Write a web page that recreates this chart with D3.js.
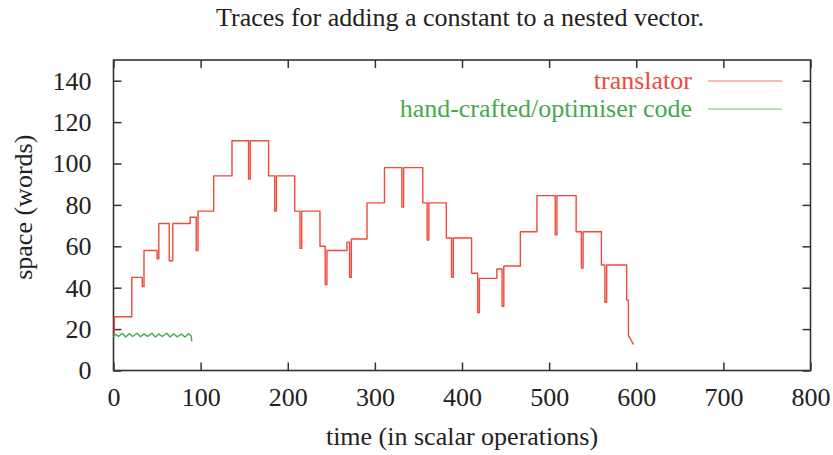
<!DOCTYPE html>
<html>
<head>
<meta charset="utf-8">
<script src="https://cdn.jsdelivr.net/npm/d3@7"></script>
<style>
  html, body { margin: 0; padding: 0; background: #fff; }
</style>
</head>
<body>
<svg id="chart" width="833" height="455"></svg>
<script>
// Translator trace: step breakpoints (time, space); space holds until the next time.
const translatorTime  = [0, 1, 21, 33, 35, 50, 52, 64, 68, 88, 95, 97, 115, 136, 155, 157, 178, 185, 187,
  208, 214, 216, 237, 243, 245, 268, 271, 273, 291, 311, 331, 333, 355, 360, 362,
  382, 388, 390, 411, 418, 420, 440, 446, 448, 467, 486, 507, 509, 531, 537, 539,
  560, 564, 566, 589, 591];
const translatorSpace = [18, 26, 45, 40.5, 58, 54, 71, 53, 71, 74, 58, 77, 94, 111, 92.5, 111, 94, 77, 94,
  77, 59, 77, 60, 41.5, 58, 62, 45, 63.5, 81, 98, 79, 98, 81, 63, 81,
  64, 45, 64, 47, 28, 44.5, 49, 31, 50.5, 67, 84.5, 65.5, 84.5, 67, 49.5, 67,
  51, 33, 51, 34, 17];
// Final release of space after the last step, drawn as a straight run.
const translatorEndTime  = [591, 597];
const translatorEndSpace = [17, 12.5];

// Hand-crafted / optimiser code trace.
const handTime  = [0, 2, 6, 10, 14, 18, 22, 27, 31, 35, 39, 44, 48, 52, 56, 61, 65, 69, 73, 78, 82, 86, 89, 90];
const handSpace = [16, 17.5, 16.5, 18, 16.2, 17.8, 16.4, 18, 16.3, 17.7, 16.5, 18, 16.2, 17.6, 16.4, 18, 16.2, 17.8, 16.3, 17.6, 16.2, 17.8, 16.8, 14];

const xTicks = [0, 100, 200, 300, 400, 500, 600, 700, 800];
const yTicks = [0, 20, 40, 60, 80, 100, 120, 140];

const seriesNames = ["translator", "hand-crafted/optimiser code"];
const seriesColors = ["#ef4a3c", "#45a94b"];

const serif = '"Liberation Serif", "Times New Roman", Tinos, serif';

const svg = d3.select("#chart");
const plotLeft = 113.5, plotRight = 810.5, plotTop = 60, plotBottom = 370.5;

const x = d3.scaleLinear().domain([0, 800]).range([plotLeft, plotRight]);
const y = d3.scaleLinear().domain([0, 150]).range([plotBottom, plotTop]);

const textColor = "#222";
const frameColor = "#333";
const tickLen = 8;

// Title and axis labels
svg.append("text")
  .attr("x", (plotLeft + plotRight) / 2 - 2).attr("y", 26)
  .attr("text-anchor", "middle").attr("font-size", 26).attr("fill", textColor)
  .style("font-family", serif)
  .text("Traces for adding a constant to a nested vector.");

svg.append("text")
  .attr("x", (plotLeft + plotRight) / 2).attr("y", 445)
  .attr("text-anchor", "middle").attr("font-size", 26).attr("fill", textColor)
  .style("font-family", serif)
  .text("time (in scalar operations)");

svg.append("text")
  .attr("transform", `translate(32,${(plotTop + plotBottom) / 2 - 8}) rotate(-90)`)
  .attr("text-anchor", "middle").attr("font-size", 26).attr("fill", textColor)
  .style("font-family", serif)
  .text("space (words)");

// Axes with inward ticks on all four sides (labels only bottom and left)
function styleAxis(g) {
  g.select(".domain").remove();
  g.selectAll(".tick line").attr("stroke", frameColor).attr("stroke-width", 1.5);
  g.selectAll(".tick text").attr("font-size", 26).attr("fill", textColor)
    .style("font-family", serif);
}

svg.append("g").attr("transform", `translate(0,${plotBottom})`)
  .call(d3.axisBottom(x).tickValues(xTicks).tickSizeInner(-tickLen).tickSizeOuter(0).tickPadding(17).tickFormat(d3.format("d")))
  .call(styleAxis);
svg.append("g").attr("transform", `translate(0,${plotTop})`)
  .call(d3.axisTop(x).tickValues(xTicks).tickSizeInner(-tickLen).tickSizeOuter(0).tickFormat(""))
  .call(styleAxis);
svg.append("g").attr("transform", `translate(${plotLeft},0)`)
  .call(d3.axisLeft(y).tickValues(yTicks).tickSizeInner(-tickLen).tickSizeOuter(0).tickPadding(22).tickFormat(d3.format("d")))
  .call(styleAxis);
svg.append("g").attr("transform", `translate(${plotRight},0)`)
  .call(d3.axisRight(y).tickValues(yTicks).tickSizeInner(-tickLen).tickSizeOuter(0).tickFormat(""))
  .call(styleAxis);

// Frame
svg.append("rect")
  .attr("x", plotLeft).attr("y", plotTop).attr("width", plotRight - plotLeft).attr("height", plotBottom - plotTop)
  .attr("fill", "none").attr("stroke", frameColor).attr("stroke-width", 1.6);

// Expand the step breakpoints into corner points
const translatorPts = [];
translatorTime.forEach((t, i) => {
  if (i > 0) translatorPts.push([t, translatorSpace[i - 1]]);
  translatorPts.push([t, translatorSpace[i]]);
});
translatorEndTime.forEach((t, i) => { if (i > 0) translatorPts.push([t, translatorEndSpace[i]]); });

const handPts = handTime.map((t, i) => [t, handSpace[i]]);

const line = d3.line().x(d => x(d[0])).y(d => y(d[1]));

svg.append("path").datum(handPts)
  .attr("d", line).attr("fill", "none")
  .attr("stroke", seriesColors[1]).attr("stroke-width", 1.4).attr("stroke-linejoin", "round");

svg.append("path").datum(translatorPts)
  .attr("d", line).attr("fill", "none")
  .attr("stroke", seriesColors[0]).attr("stroke-width", 1.4).attr("stroke-linejoin", "round");

// Legend
const legendRows = [89, 117];
seriesNames.forEach((name, i) => {
  svg.append("text")
    .attr("x", 692).attr("y", legendRows[i])
    .attr("text-anchor", "end").attr("font-size", 26).attr("fill", seriesColors[i])
    .style("font-family", serif)
    .text(name);
  svg.append("line")
    .attr("x1", 708).attr("x2", 782)
    .attr("y1", legendRows[i] - 8).attr("y2", legendRows[i] - 8)
    .attr("stroke", seriesColors[i]).attr("stroke-width", 1.2).attr("opacity", 0.75);
});
</script>
</body>
</html>
